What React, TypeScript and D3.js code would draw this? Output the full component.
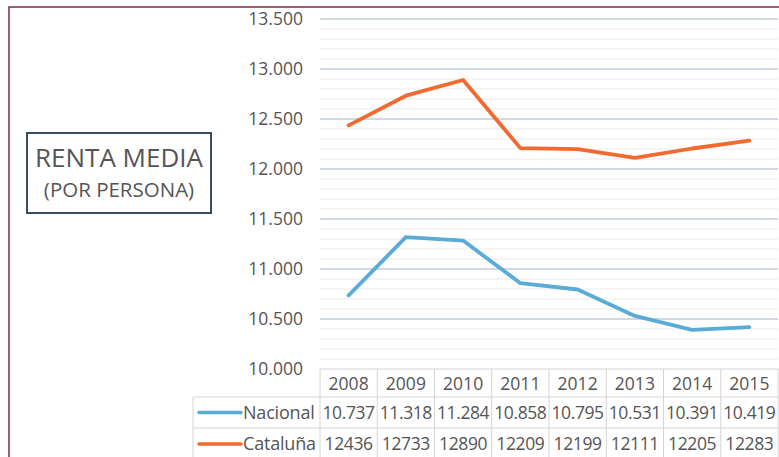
import React from "react";
import * as d3 from "d3";

const width = 779;
const height = 457;

const years = ["2008", "2009", "2010", "2011", "2012", "2013", "2014", "2015"];
const nacional = [10737, 11318, 11284, 10858, 10795, 10531, 10391, 10419];
const cataluna = [12436, 12733, 12890, 12209, 12199, 12111, 12205, 12283];
const nacionalLabels = ["10.737", "11.318", "11.284", "10.858", "10.795", "10.531", "10.391", "10.419"];
const catalunaLabels = ["12436", "12733", "12890", "12209", "12199", "12111", "12205", "12283"];
const yTicks = [10000, 10500, 11000, 11500, 12000, 12500, 13000, 13500];

const plot = { left: 320, right: 778, top: 19, bottom: 369 };
const rowTop = [369, 397, 428, 460];
const headLeft = 193;

const font = "'Open Sans', sans-serif";
const textColor = "#555555";
const orange = "#f26a30";
const blue = "#5aacd6";

const fmt = (v: number) => d3.format(",")(v).replace(/,/g, ".");

export default function App() {
  const x = d3.scaleBand<string>().domain(years).range([plot.left, plot.right]);
  const y = d3.scaleLinear().domain([10000, 13500]).range([plot.bottom, plot.top]);
  const minor = d3.range(10000, 13501, 100).filter(v => v % 500 !== 0);

  const line = d3
    .line<number>()
    .x((_, i) => (x(years[i]) as number) + x.bandwidth() / 2)
    .y(d => y(d));

  const series = [
    { name: "Nacional", values: nacional, labels: nacionalLabels, color: blue },
    { name: "Cataluña", values: cataluna, labels: catalunaLabels, color: orange },
  ];

  return (
    <svg width={width} height={height} style={{ position: "absolute", left: 0, top: 0, background: "#fff" }}>
      <rect x={9} y={7} width={width + 20} height={height + 20} fill="#fff" stroke="#7e2b42" strokeWidth={1.5} />

      {minor.map(v => (
        <line key={v} x1={plot.left} x2={plot.right} y1={y(v)} y2={y(v)} stroke="#ebebeb" strokeWidth={1} />
      ))}
      {yTicks.slice(1).map(v => (
        <line key={v} x1={plot.left} x2={plot.right} y1={y(v)} y2={y(v)} stroke="#c3ccd8" strokeWidth={1.5} />
      ))}
      {yTicks.map(v => (
        <text key={v} x={303} y={y(v) + 6} textAnchor="end" fontFamily={font} fontSize={17.5} fill={textColor}>
          {fmt(v)}
        </text>
      ))}

      {/* data table */}
      <g stroke="#d4d4d4" strokeWidth={1}>
        <line x1={plot.left} x2={plot.right} y1={rowTop[0]} y2={rowTop[0]} />
        <line x1={headLeft} x2={plot.right} y1={rowTop[1]} y2={rowTop[1]} />
        <line x1={headLeft} x2={plot.right} y1={rowTop[2]} y2={rowTop[2]} />
        <line x1={headLeft} x2={headLeft} y1={rowTop[1]} y2={height} />
        {years.map(yr => (
          <line key={yr} x1={x(yr)} x2={x(yr)} y1={rowTop[0]} y2={height} />
        ))}
        <line x1={plot.right} x2={plot.right} y1={rowTop[0]} y2={height} />
      </g>
      {years.map(yr => (
        <text key={yr} x={(x(yr) as number) + x.bandwidth() / 2} y={rowTop[0] + 21} textAnchor="middle"
          fontFamily={font} fontSize={17.5} fill={textColor}>
          {yr}
        </text>
      ))}
      {series.map((s, r) => {
        const cy = (rowTop[r + 1] + rowTop[r + 2]) / 2;
        return (
          <g key={s.name}>
            <line x1={199} x2={241} y1={cy} y2={cy} stroke={s.color} strokeWidth={3.5} strokeLinecap="round" />
            <text x={243} y={cy + 6} fontFamily={font} fontSize={18} fill={textColor} letterSpacing={-0.2}>{s.name}</text>
            {s.labels.map((lb, i) => (
              <text key={i} x={(x(years[i]) as number) + x.bandwidth() / 2} y={cy + 6} textAnchor="middle"
                fontFamily={font} fontSize={17.5} fill={textColor} letterSpacing={-0.4}>
                {lb}
              </text>
            ))}
          </g>
        );
      })}

      {series.map(s => (
        <path key={s.name} d={line(s.values) as string} fill="none" stroke={s.color} strokeWidth={3.8}
          strokeLinejoin="round" strokeLinecap="round" />
      ))}

      {/* title box */}
      <rect x={27} y={133} width={184} height={80} fill="#fff" stroke="#3d4b5c" strokeWidth={2} />
      <text x={119} y={167} textAnchor="middle" fontFamily={font} fontSize={26} fill={textColor}>RENTA MEDIA</text>
      <text x={119} y={197} textAnchor="middle" fontFamily={font} fontSize={20.5} fill={textColor}>(POR PERSONA)</text>
    </svg>
  );
}
